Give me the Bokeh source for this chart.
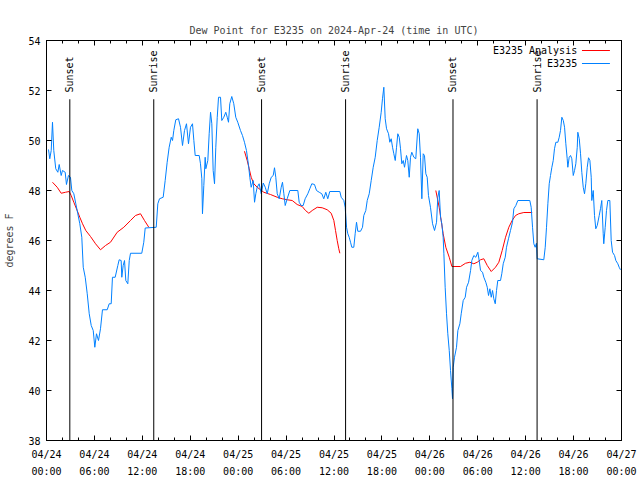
import math
import numpy as np
from bokeh.plotting import figure
from bokeh.models import FixedTicker, LinearAxis, Range1d, Label
from bokeh.core.properties import value
from bokeh.embed import file_html
from bokeh.resources import INLINE

NAN = float("nan")

# ---------------- data (hours since 2024-04-24 00:00 UTC) ----------------
title_text = "Dew Point for E3235 on 2024-Apr-24 (time in UTC)"
y_label = "degrees F"

x_tick_hours = [0, 6, 12, 18, 24, 30, 36, 42, 48, 54, 60, 66, 72]
x_tick_labels = ["04/24\n00:00", "04/24\n06:00", "04/24\n12:00", "04/24\n18:00",
                 "04/25\n00:00", "04/25\n06:00", "04/25\n12:00", "04/25\n18:00",
                 "04/26\n00:00", "04/26\n06:00", "04/26\n12:00", "04/26\n18:00",
                 "04/27\n00:00"]
x_minor_hours = [2, 4, 8, 10, 14, 16, 20, 22, 26, 28, 32, 34, 38, 40, 44, 46,
                 50, 52, 56, 58, 62, 64, 68, 70]
y_ticks = [38, 40, 42, 44, 46, 48, 50, 52, 54]

sunset_hours = [2.92, 26.93, 50.90]
sunrise_hours = [13.43, 37.45, 61.43]

obs_hours = [
    0.25, 0.41, 0.59, 0.75, 0.91, 1.16, 1.42, 1.59, 1.84, 2.00,
    2.34, 2.50, 2.75, 3.00, 3.17, 3.42, 3.67, 3.92, 4.17, 4.42,
    4.60, 4.85, 5.10, 5.35, 5.60, 5.85, 6.05, 6.26, 6.51, 6.76,
    7.01, 7.60, 7.85, 8.10, 8.26, 8.60, 8.93, 9.10, 9.35, 9.43,
    9.60, 9.77, 9.93, 10.18, 10.36, 10.52, 11.93, 12.18, 12.36, 13.74,
    13.94, 14.15, 14.61, 14.86, 15.11, 15.36, 15.62, 15.78, 15.94, 16.19,
    16.53, 16.78, 17.03, 17.28, 17.53, 17.78, 18.03, 18.28, 18.45, 18.62,
    19.12, 19.28, 19.45, 19.53, 19.70, 19.87, 19.95, 20.20, 20.37, 20.54,
    20.70, 20.87, 21.04, 21.20, 21.38, 21.54, 21.79, 21.95, 22.20, 22.45,
    22.63, 22.79, 22.95, 23.20, 23.45, 23.70, 23.95, 24.29, 24.54, 24.79,
    25.04, 25.30, 25.46, 25.63, 25.88, 26.05, 26.21, 26.38, 26.63, 26.89,
    27.14, 27.39, 27.64, 27.89, 28.14, 28.39, 28.55, 28.71, 28.89, 29.14,
    29.39, 29.55, 29.72, 29.89, 30.14, 30.47, 31.47, 31.64, 31.89, 32.14,
    32.39, 32.72, 32.97, 33.22, 33.56, 33.81, 34.15, 34.47, 34.72, 34.97,
    35.22, 35.47, 36.73, 36.90, 37.23, 37.40, 37.57, 37.73, 37.90, 38.07,
    38.23, 38.48, 38.65, 38.82, 38.98, 39.32, 39.57, 39.73, 39.98, 40.16,
    40.41, 40.66, 40.91, 41.16, 41.41, 41.66, 41.91, 42.07, 42.24, 42.41,
    42.58, 42.83, 42.99, 43.16, 43.33, 43.49, 43.67, 43.83, 43.99, 44.17,
    44.33, 44.49, 44.67, 44.83, 45.08, 45.24, 45.42, 45.58, 45.74, 46.00,
    46.24, 46.49, 46.67, 46.83, 47.00, 47.17, 47.33, 47.50, 47.67, 47.83,
    48.08, 48.34, 48.59, 48.84, 49.00, 49.17, 49.34, 49.50, 49.67, 49.76,
    49.92, 50.09, 50.25, 50.43, 50.59, 50.76, 50.84, 50.93, 51.09, 51.34,
    51.51, 51.76, 51.93, 52.18, 52.43, 52.60, 52.85, 53.10, 53.26, 53.51,
    53.76, 54.01, 54.18, 54.35, 54.60, 54.76, 55.01, 55.19, 55.35, 55.52,
    55.69, 55.85, 56.01, 56.19, 56.35, 56.51, 56.85, 57.01, 57.19, 57.44,
    57.60, 57.85, 58.10, 58.35, 58.52, 58.77, 59.02, 60.52, 60.69, 60.86,
    61.02, 61.19, 61.35, 61.44, 62.27, 62.45, 62.61, 62.78, 62.95, 63.11,
    63.28, 63.45, 63.61, 63.78, 64.03, 64.20, 64.36, 64.53, 64.71, 64.87,
    65.03, 65.20, 65.28, 65.45, 65.62, 65.78, 65.96, 66.12, 66.28, 66.46,
    66.53, 66.71, 66.87, 67.03, 67.21, 67.37, 67.53, 67.71, 67.87, 68.04,
    68.21, 68.28, 68.46, 68.62, 68.78, 68.96, 69.21, 69.37, 69.53, 69.71,
    69.78, 69.96, 70.12, 70.29, 70.54, 70.71, 70.88, 71.13, 71.29, 71.54,
    71.71, 71.87,
]
obs_dewpt = [
    49.64, 49.27, 49.60, 50.73, 49.60, 48.87, 48.73, 49.04, 48.60, 48.80,
    48.73, 48.24, 48.60, 48.53, 48.00, 47.87, 47.47, 47.07, 46.67, 46.13,
    44.93, 44.53, 43.87, 43.07, 42.60, 42.40, 41.73, 42.27, 42.00, 42.47,
    43.23, 43.23, 43.47, 43.47, 44.53, 44.53, 45.00, 45.23, 45.20, 44.53,
    45.00, 45.20, 44.40, 44.27, 45.20, 45.49, 45.49, 45.93, 46.50, 46.53,
    47.47, 47.67, 47.73, 48.40, 49.13, 49.73, 50.13, 50.00, 50.40, 50.83,
    50.87, 50.53, 49.80, 50.40, 50.67, 49.87, 50.53, 50.67, 50.00, 49.40,
    49.40, 49.07, 48.47, 47.07, 48.20, 49.33, 48.87, 49.20, 50.27, 51.13,
    50.67, 48.80, 48.27, 49.73, 50.93, 51.73, 51.73, 50.80, 50.93, 51.13,
    50.93, 50.73, 51.47, 51.76, 51.47, 50.93, 50.73, 50.40, 50.20, 49.93,
    49.60, 49.00, 48.53, 48.13, 48.40, 47.53, 47.87, 48.13, 48.27, 47.87,
    48.30, 48.13, 47.87, 48.27, 48.53, 48.60, 48.91, 48.53, 47.87, 47.67,
    48.13, 48.33, 47.87, 47.40, 47.67, 48.00, 48.00, 47.53, 47.40, 47.40,
    47.67, 47.87, 48.07, 48.27, 48.24, 48.00, 47.93, 47.87, 47.67, 47.93,
    47.67, 47.96, 47.96, 47.73, 47.60, 47.33, 46.53, 46.27, 46.13, 45.93,
    45.73, 45.73, 46.27, 46.73, 46.37, 46.37, 46.53, 47.00, 47.20, 47.60,
    47.87, 48.40, 48.93, 49.33, 50.00, 50.53, 51.13, 51.67, 52.13, 50.87,
    50.47, 50.27, 49.93, 50.07, 49.73, 49.47, 49.20, 49.73, 50.27, 50.13,
    49.67, 49.07, 49.20, 48.93, 49.40, 49.20, 48.53, 49.33, 49.53, 49.33,
    49.27, 50.47, 50.27, 49.33, 47.67, 49.47, 49.40, 48.67, 48.53, 47.80,
    47.33, 46.67, 46.40, 46.73, 47.73, 48.00, 46.93, 46.67, 46.13, 45.47,
    44.13, 43.07, 42.27, 41.60, 40.80, 40.07, 39.67, 40.93, 41.33, 41.73,
    42.40, 42.67, 43.07, 43.60, 43.73, 44.13, 44.33, 44.80, 45.20, 45.40,
    45.33, 45.53, 45.20, 44.80, 44.73, 44.53, 44.33, 44.13, 43.80, 44.07,
    43.73, 44.00, 43.67, 43.47, 44.00, 44.40, 44.40, 44.67, 45.07, 45.33,
    45.73, 46.07, 46.40, 46.73, 47.27, 47.40, 47.60, 47.60, 47.33, 46.53,
    45.87, 45.73, 45.89, 45.27, 45.23, 45.73, 46.53, 47.47, 48.27, 48.60,
    48.93, 49.20, 49.67, 49.93, 49.93, 50.13, 50.40, 50.93, 50.80, 50.53,
    49.87, 49.27, 48.93, 49.33, 49.40, 49.27, 48.60, 48.80, 49.07, 49.73,
    50.33, 50.07, 49.47, 48.73, 48.13, 47.87, 48.27, 48.93, 49.31, 49.20,
    48.53, 47.60, 48.00, 47.00, 46.47, 46.60, 47.00, 47.27, 47.60, 46.27,
    45.87, 46.53, 47.20, 47.60, 47.60, 46.00, 45.53, 45.40, 45.20, 45.07,
    44.93, 44.83,
]

ana_hours = [
    0.75, 1.34, 1.84, 2.38, 2.84, 3.09, 3.42, 3.84, 4.17, 4.51, 4.92, 5.51,
    6.14, 6.76, 7.39, 8.01, 8.85, 9.68, 10.52, 11.14, 11.77, 12.27, 12.81,
    NAN,
    24.79, 25.13, 25.38, 25.63, 25.96, 26.38, 26.80, 27.21, 28.05, 28.89,
    29.52, 30.14, 30.77, 31.39, 32.02, 32.43, 32.85, 33.27, 33.90, 34.52,
    35.15, 35.65, 35.98, 36.19, 36.40, 36.60, 36.73,
    NAN,
    48.75, 49.17, 49.42, 49.67, 50.00, 50.43, 50.76, 51.84, 52.47, 53.01,
    53.51, 53.93, 54.35, 54.76, 55.19, 55.69, 56.22, 56.64, 57.06, 57.48,
    57.89, 58.31, 58.73, 59.14, 59.77, 60.82,
]
ana_dewpt = [
    48.33, 48.13, 47.89, 47.93, 47.96, 47.80, 47.53, 47.20, 46.93, 46.67, 46.40, 46.16,
    45.87, 45.63, 45.80, 45.93, 46.33, 46.53, 46.80, 47.00, 47.07, 46.80, 46.53,
    NAN,
    49.57, 49.20, 48.87, 48.53, 48.27, 48.13, 48.03, 47.93, 47.84, 47.73,
    47.67, 47.63, 47.60, 47.44, 47.36, 47.20, 47.09, 47.20, 47.33, 47.31,
    47.23, 47.09, 46.80, 46.40, 46.00, 45.67, 45.49,
    NAN,
    48.00, 47.33, 46.80, 46.27, 45.73, 45.33, 44.96, 44.96, 45.09, 45.13,
    45.07, 45.13, 45.23, 45.27, 45.00, 44.76, 44.93, 45.13, 45.60, 46.13,
    46.53, 46.80, 47.00, 47.07, 47.12, 47.12,
]
assert len(obs_hours) == len(obs_dewpt)
assert len(ana_hours) == len(ana_dewpt)

series_names = ["E3235 Analysis", "E3235"]

# ---------------- styling / layout ----------------
FONT = "DejaVu Sans Mono"
FS = "10px"
RED = "#ff0000"
BLUE = "#0080ff"
x_lo, x_hi = 0, 72
y_lo, y_hi = 38, 54
sun_line_top = 51.65      # where the sun marker lines stop
sun_text_base = 51.92     # where the rotated labels start
legend_text_x = 66.45
legend_line_x = (67.05, 70.55)
legend_rows_y = [53.60, 53.08]

p = figure(width=640, height=480, output_backend="svg", toolbar_location=None,
           x_range=Range1d(x_lo, x_hi), y_range=Range1d(y_lo, y_hi),
           min_border_left=46, min_border_right=19, min_border_top=40,
           min_border_bottom=40, title=title_text)
p.background_fill_color = "white"
p.border_fill_color = "white"
p.outline_line_color = "black"
p.grid.visible = False

p.title.text_font = FONT
p.title.text_font_size = FS
p.title.text_font_style = "normal"
p.title.align = "center"
p.title.vertical_align = "top"
p.title.text_line_height = 2.2
p.title.standoff = 6

xticker = FixedTicker(ticks=x_tick_hours, minor_ticks=x_minor_hours)
yticker = FixedTicker(ticks=y_ticks, minor_ticks=[])


def style_axis(ax, show_labels):
    ax.axis_line_color = "black"
    ax.major_tick_line_color = "black"
    ax.minor_tick_line_color = "black"
    ax.major_tick_in = 5
    ax.major_tick_out = 0
    ax.minor_tick_in = 3
    ax.minor_tick_out = 0
    ax.major_label_text_font = FONT
    ax.major_label_text_font_size = FS if show_labels else "0px"
    ax.major_label_text_color = "black"
    if not show_labels:
        ax.major_label_standoff = 0


p.xaxis.ticker = xticker
p.yaxis.ticker = yticker
style_axis(p.xaxis[0], True)
style_axis(p.yaxis[0], True)
p.xaxis.major_label_overrides = {h: lab for h, lab in zip(x_tick_hours, x_tick_labels)}
p.xaxis.major_label_standoff = 8
p.xaxis.major_label_text_line_height = 1.55
p.yaxis.major_label_standoff = 6
p.yaxis.axis_label = y_label
p.yaxis.axis_label_text_font = FONT
p.yaxis.axis_label_text_font_size = FS
p.yaxis.axis_label_text_font_style = "normal"
p.yaxis.axis_label_standoff = 10

top_ax = LinearAxis(ticker=xticker)
style_axis(top_ax, False)
top_ax.major_label_overrides = {h: "" for h in x_tick_hours}
right_ax = LinearAxis(ticker=yticker)
style_axis(right_ax, False)
right_ax.major_label_overrides = {t: "" for t in y_ticks}
p.add_layout(top_ax, "above")
p.add_layout(right_ax, "right")

# analysis line then observations
p.line(np.array(ana_hours), np.array(ana_dewpt), line_color=RED, line_width=1)
p.line(np.array(obs_hours), np.array(obs_dewpt), line_color=BLUE, line_width=1)

# sunrise / sunset markers
sun_hours = []
sun_labels = []
for a, b in zip(sunset_hours, sunrise_hours):
    sun_hours += [a, b]
    sun_labels += ["Sunset", "Sunrise"]
p.segment(x0=sun_hours, y0=[y_lo] * len(sun_hours), x1=sun_hours,
          y1=[sun_line_top] * len(sun_hours), line_color="black", line_width=1)
p.text(x=sun_hours, y=[sun_text_base] * len(sun_hours), text=sun_labels,
       angle=math.pi / 2, text_align="left", text_baseline="middle",
       text_font=value(FONT), text_font_size=FS, text_color="black")

# gnuplot-style key: text right-justified, sample line to its right
for name, col, ly in zip(series_names, [RED, BLUE], legend_rows_y):
    p.add_layout(Label(x=legend_text_x, y=ly, text=name, text_align="right",
                       text_baseline="middle", text_font=FONT,
                       text_font_size=FS, text_color="black"))
    p.line(x=list(legend_line_x), y=[ly, ly], line_color=col, line_width=1)

open("out.html", "w").write(file_html(p, INLINE))
